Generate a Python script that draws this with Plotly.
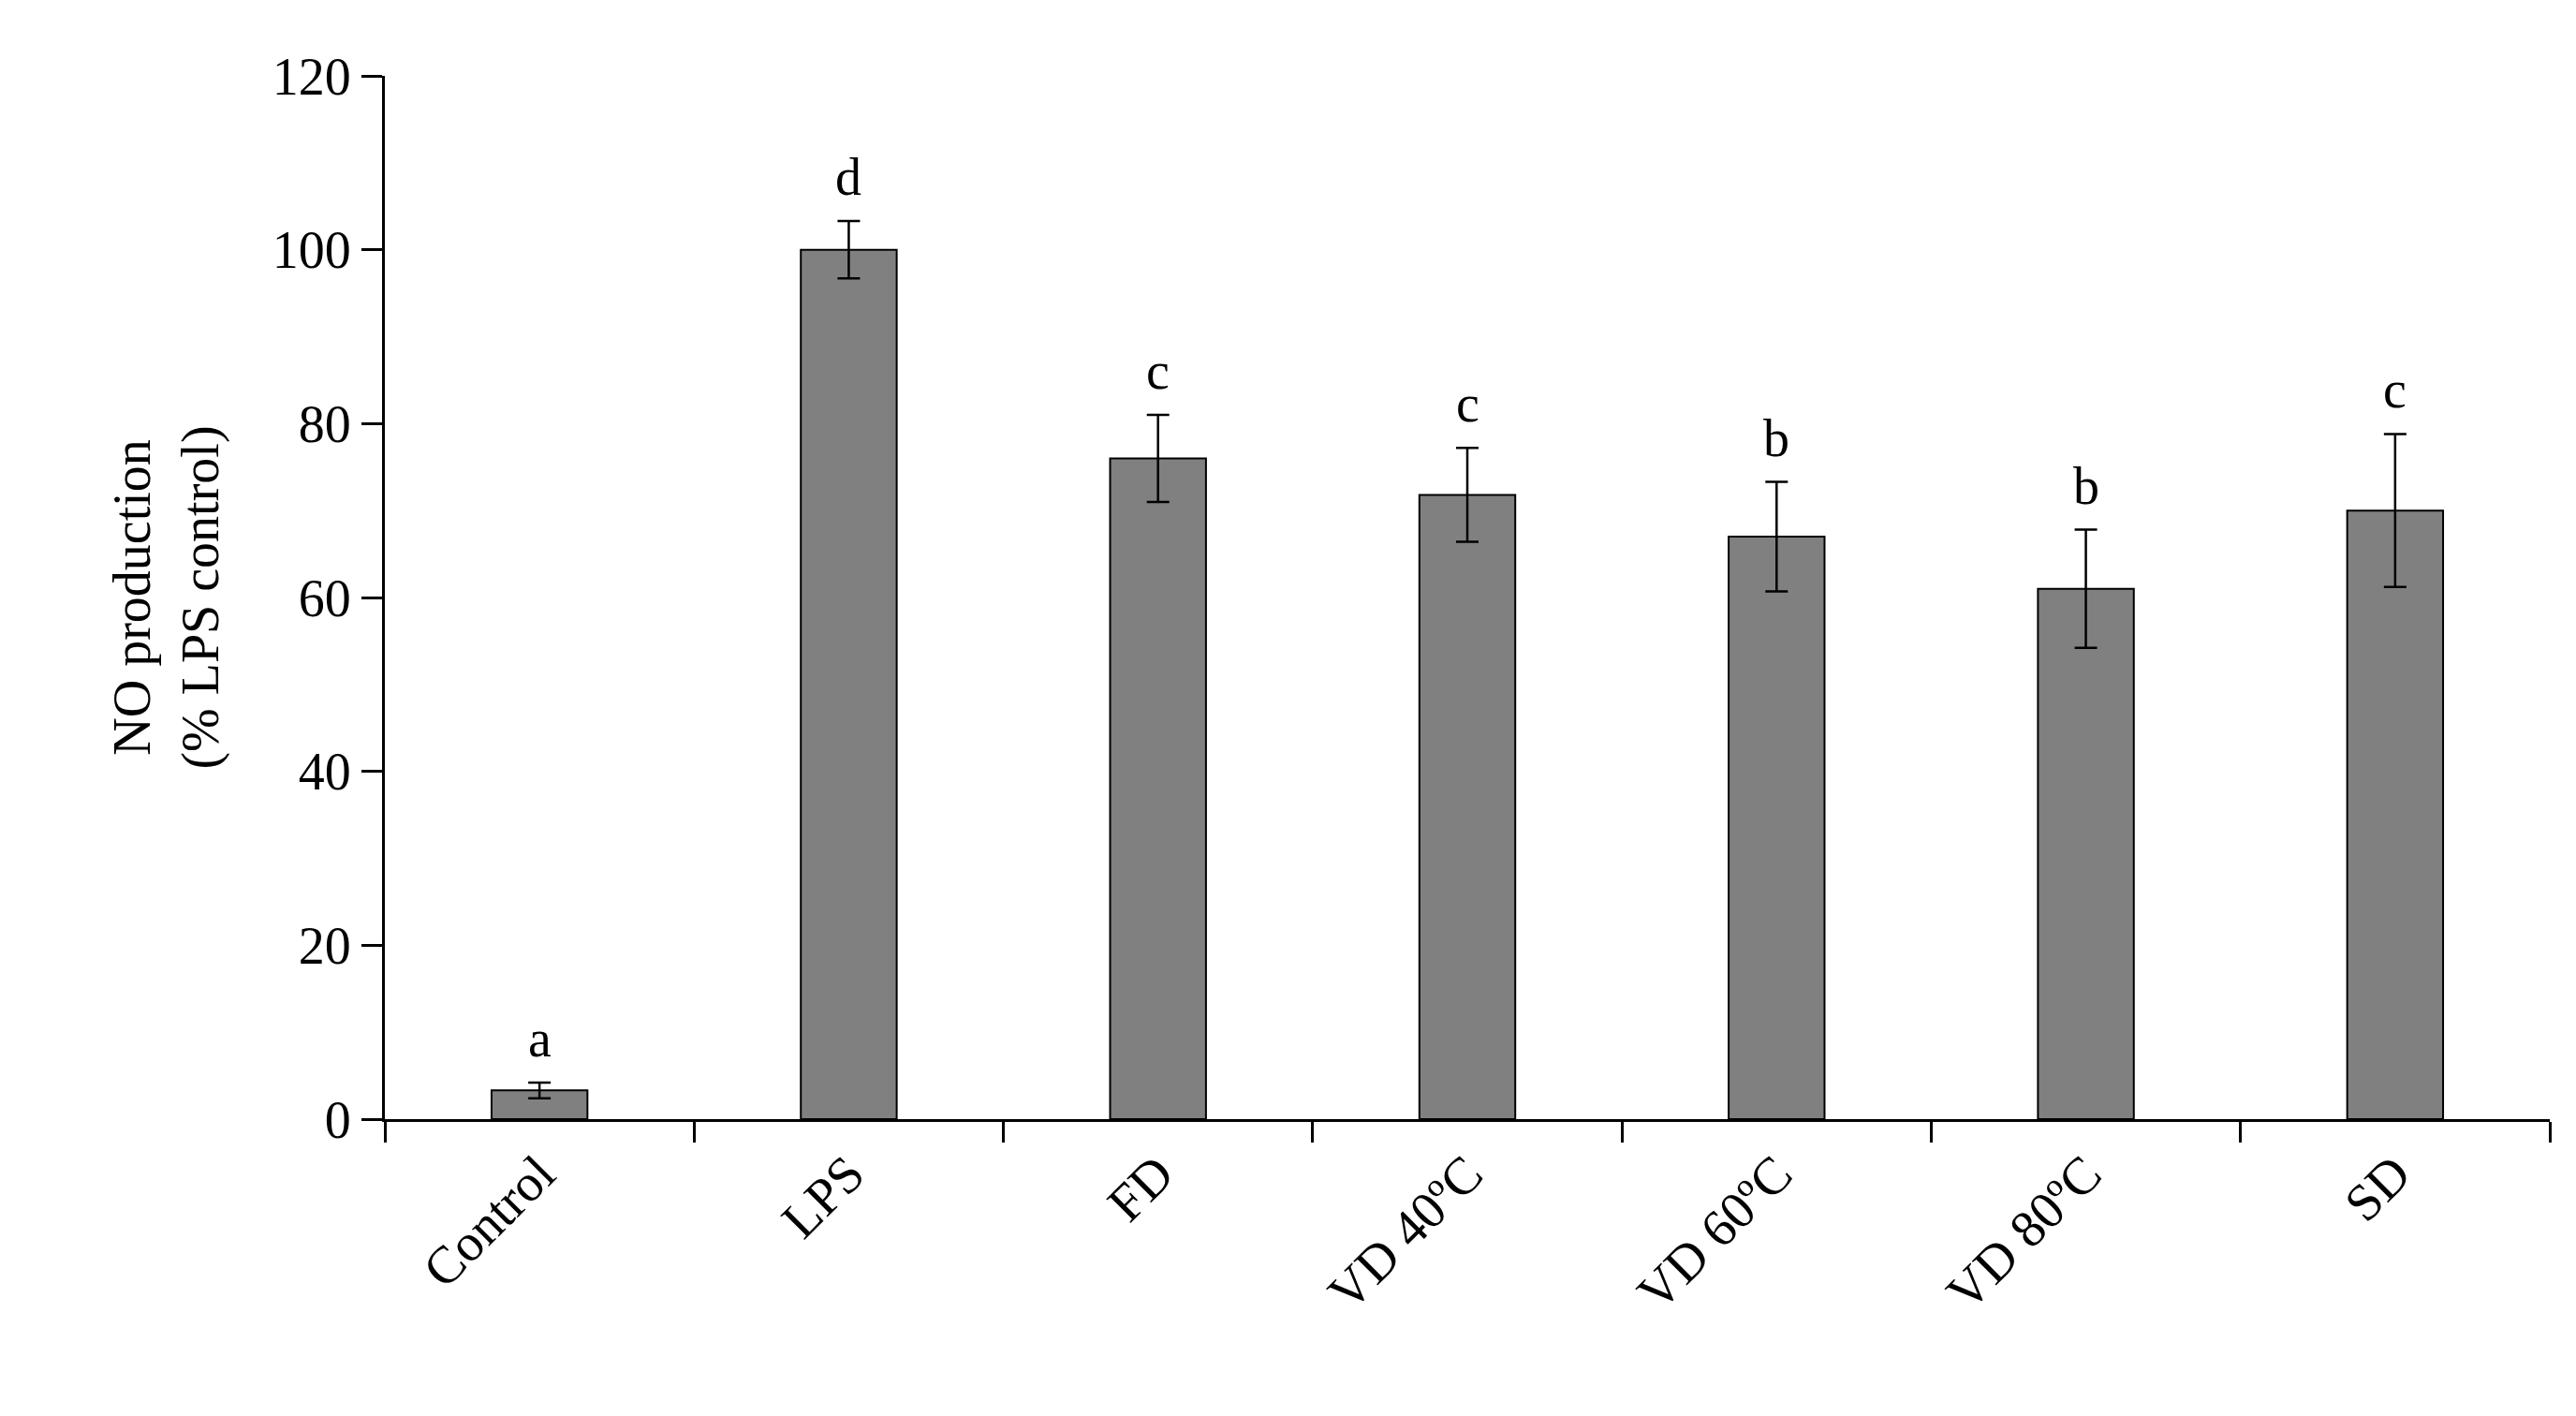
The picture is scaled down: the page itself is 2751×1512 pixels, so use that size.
import plotly.graph_objects as go

groups = ["Control", "LPS", "FD", "VD 40ºC", "VD 60ºC", "VD 80ºC", "SD"]
no_production = [3.3, 100, 76, 71.8, 67, 61, 70]
errors = [0.9, 3.3, 5.0, 5.4, 6.3, 6.8, 8.8]
letters = ["a", "d", "c", "c", "b", "b", "c"]

font = dict(family="Liberation Serif, DejaVu Serif, serif", size=56, color="black")

fig = go.Figure(go.Bar(
    x=groups, y=no_production, width=0.31,
    marker=dict(color="#808080", line=dict(color="black", width=2)),
    error_y=dict(type="data", array=errors, color="black", thickness=2.5, width=12),
))

for g, v, e, s in zip(groups, no_production, errors, letters):
    fig.add_annotation(x=g, y=v + e, text=s, showarrow=False,
                       yanchor="bottom", yshift=14, font=font)

fig.update_layout(
    width=2751, height=1512, plot_bgcolor="white", paper_bgcolor="white",
    margin=dict(l=403, r=36, t=73, b=325), font=font, showlegend=False,
    xaxis=dict(showline=True, linecolor="black", linewidth=3,
               ticks="outside", tickson="boundaries", ticklen=22, tickwidth=3,
               tickcolor="black", tickangle=-45, tickfont=font),
    yaxis=dict(range=[0, 120], dtick=20, showline=True, linecolor="black",
               linewidth=3, ticks="outside", ticklen=22, tickwidth=3,
               tickcolor="black", showgrid=False, zeroline=False, tickfont=font,
               title=dict(text="NO production<br>(% LPS control)", font=font, standoff=40)),
)

fig.write_html("out.html")
